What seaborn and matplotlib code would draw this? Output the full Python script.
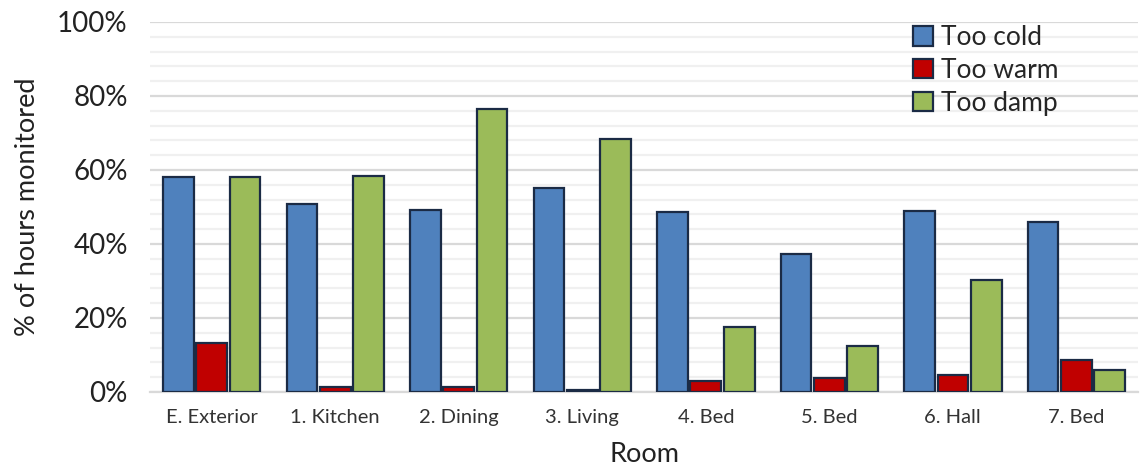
import numpy as np
import pandas as pd
import matplotlib
matplotlib.use("Agg")
import matplotlib.pyplot as plt
from matplotlib.ticker import MultipleLocator, FuncFormatter
from matplotlib.patches import Patch
import seaborn as sns

rooms = ["E. Exterior", "1. Kitchen", "2. Dining", "3. Living",
         "4. Bed", "5. Bed", "6. Hall", "7. Bed"]
too_cold = [58.1, 50.8, 49.2, 55.0, 48.6, 37.3, 49.0, 46.0]
too_warm = [13.2, 1.2, 1.2, 0.5, 3.0, 3.8, 4.6, 8.6]
too_damp = [58.0, 58.4, 76.5, 68.4, 17.6, 12.4, 30.3, 6.0]
series = ["Too cold", "Too warm", "Too damp"]
colors = ["#4F81BD", "#C00000", "#9BBB59"]
edge = "#1B2B45"

df = pd.DataFrame({
    "Room": rooms * 3,
    "Condition": np.repeat(series, len(rooms)),
    "Percent": too_cold + too_warm + too_damp,
})

sns.set_theme(style="white")
plt.rcParams["font.family"] = ["Lato", "DejaVu Sans"]

fig = plt.figure(figsize=(11.45, 4.66), dpi=100)
ax = fig.add_axes([0.131, 0.159, 0.863, 0.794])

sns.barplot(data=df, x="Room", y="Percent", hue="Condition",
            palette=colors, saturation=1, width=0.81, gap=0.08,
            edgecolor=edge, linewidth=1.6, ax=ax, legend=False, zorder=3)

ax.set_ylim(0, 100)
ax.set_xlim(-0.5, len(rooms) - 0.5)
ax.yaxis.set_major_locator(MultipleLocator(20))
ax.yaxis.set_minor_locator(MultipleLocator(4))
ax.yaxis.set_major_formatter(FuncFormatter(lambda v, p: f"{v:.0f}%"))
ax.grid(axis="y", which="major", color="#D9D9D9", linewidth=1.6, zorder=0)
ax.grid(axis="y", which="minor", color="#F0F0F0", linewidth=1.6, zorder=0)
ax.set_axisbelow(True)
for s in ["left", "right", "top"]:
    ax.spines[s].set_visible(False)
ax.spines["bottom"].set_color("#D9D9D9")
ax.spines["bottom"].set_linewidth(1.6)

ax.tick_params(axis="y", which="both", length=0, labelsize=20, pad=16, colors="#222222")
ax.tick_params(axis="x", length=0, labelsize=14.5, pad=12, colors="#333333")
ax.set_ylabel("% of hours monitored", fontsize=19.5, color="#222222", labelpad=12)
ax.set_xlabel("Room", fontsize=19.5, color="#222222", labelpad=12)

handles = [Patch(facecolor=c, edgecolor=edge, linewidth=1.6) for c in colors]
ax.legend(handles, series, loc="upper right", bbox_to_anchor=(0.93, 1.02),
          frameon=False, fontsize=19, handlelength=0.75, handleheight=0.75,
          handletextpad=0.3, labelspacing=0.3, borderaxespad=0)

fig.savefig("out.png", dpi=100, facecolor="white")
